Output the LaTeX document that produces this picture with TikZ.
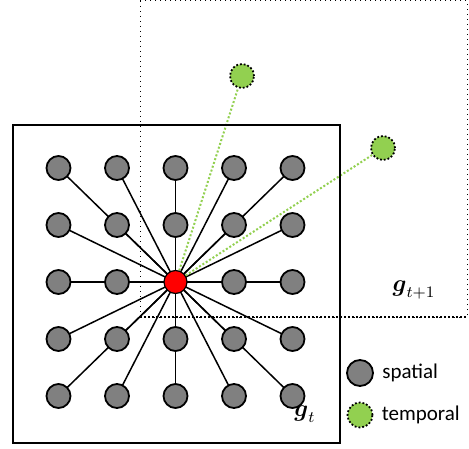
\documentclass[tikz,border=0pt]{standalone}
\usepackage{amsmath}
\usepackage{amssymb}
\usepackage{fontspec}
\newfontfamily\legendfont{Carlito}
\usepackage{tikz}
\usetikzlibrary{positioning, backgrounds}
\definecolor{nodegray}{RGB}{128,128,128}
\definecolor{tgreen}{RGB}{146,208,80}
\tikzset{
  spatial/.style={circle, draw=black, fill=nodegray, line width=0.9pt, minimum size=12pt, inner sep=0pt},
  temporal/.style={circle, draw=black, fill=tgreen, densely dotted, line width=0.9pt, minimum size=12pt, inner sep=0pt},
  target/.style={circle, draw=black, fill=red, line width=0.6pt, minimum size=11.5pt, inner sep=0pt},
  spoke/.style={line width=0.75pt},
  tlink/.style={tgreen, densely dotted, line width=1pt},
  legendtext/.style={font=\legendfont\fontsize{10.5}{12}\selectfont, inner sep=0pt}
}

\begin{document}
\begin{tikzpicture}[x=0.5pt,y=-0.5pt]
\useasboundingbox (0,0) rectangle (469,448);

% frame of g_{t+1}
\draw[dotted, line width=0.5pt] (140,1) rectangle (467,317);
\draw[densely dotted, line width=1pt] (140,317) -- (467,317);
% frame of g_t
\draw[line width=1pt] (13,125) rectangle (340,443);

% centre node and 5x5 neighbourhood
\node[target] (c) at (175.5,282) {};
\foreach \i in {0,...,4}
  \foreach \j in {0,...,4} {
    \ifnum\i\j=22 \else
      \node[spatial] (n\i\j) at ({58.5+58.5*\i},{168+57*\j}) {};
    \fi
  }

% temporal neighbours
\node[temporal] (p1) at (242,76) {};
\node[temporal] (p2) at (383,148) {};

\begin{pgfonlayer}{background}
\foreach \i in {0,...,4}
  \foreach \j in {0,...,4} {
    \ifnum\i\j=22 \else
      \draw[spoke] (c.center) -- (n\i\j.center);
    \fi
  }
\draw[tlink] (c) -- (p1);
\draw[tlink] (c) -- (p2);
\end{pgfonlayer}

% frame labels
\node[font=\large] (gt) at (305,414) {$\boldsymbol{g}_t$};
\node[font=\large] (gt1) at (414,290) {$\boldsymbol{g}_{t+1}$};

% legend
\node[spatial, minimum size=13pt] (ls) at (360,373) {};
\node[legendtext, right=4pt of ls] (lstext) {spatial};
\node[temporal, minimum size=12.5pt] (lt) at (360,415) {};
\node[legendtext, right=4pt of lt] (lttext) {temporal};
\end{tikzpicture}
\end{document}
